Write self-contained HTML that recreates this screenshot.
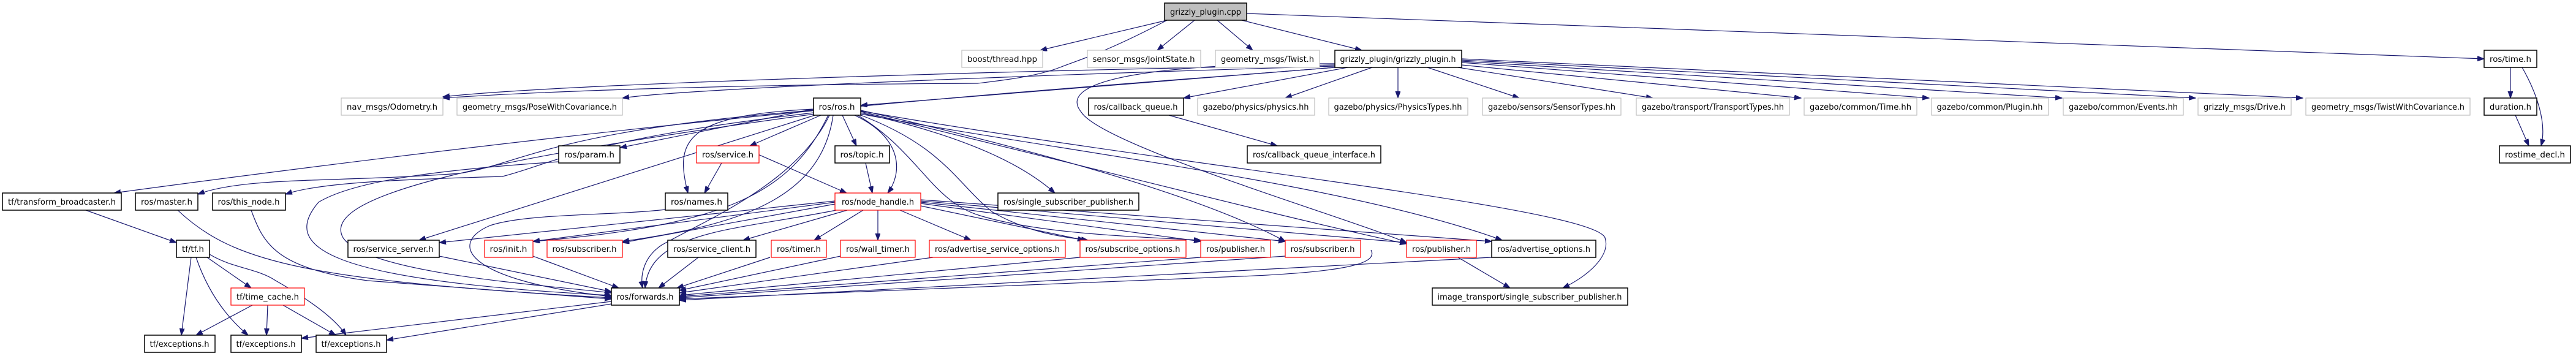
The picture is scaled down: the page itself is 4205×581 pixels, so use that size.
<!DOCTYPE html>
<html><head><meta charset="utf-8"><style>
html,body{margin:0;padding:0;background:#fff;}
svg{display:block}
text{font-family:"DejaVu Sans","Liberation Sans",sans-serif;font-size:13px;fill:#000}
.e{fill:none;stroke:#191970;stroke-width:1.2;marker-end:url(#a)}
.k{fill:#fff;stroke:#000;stroke-width:1.5}
.g{fill:#fff;stroke:#bfbfbf;stroke-width:1.2}
.r{fill:#fff;stroke:#ff0000;stroke-width:1.2}
.f{fill:#bfbfbf;stroke:#000;stroke-width:1.5}
</style></head><body>
<svg width="4205" height="581" viewBox="0 0 4205 581" xmlns="http://www.w3.org/2000/svg">
<defs><marker id="a" markerUnits="userSpaceOnUse" markerWidth="12" markerHeight="9" refX="11" refY="4" orient="auto"><path d="M0,0 L11,4 L0,8 z" fill="#191970" stroke="#191970"/></marker></defs>
<g>
<path class="e" d="M1905,33 L1698,82"/>
<path class="e" d="M1950,33 L1889,82"/>
<path class="e" d="M1987,33 L2045,82"/>
<path class="e" d="M2027,33 L2223,82"/>
<path class="e" d="M2035,22 L4055,96"/>
<path class="e" d="M1905,33 C1800,88 1760,98 1730,110 C1690,126 1620,133 1596,136 C1200,138 900,148 723,160"/>
<path class="e" d="M2179,106 C1600,116 900,138 723,158"/>
<path class="e" d="M2179,108 C1500,128 1100,148 1016,160"/>
<path class="e" d="M2179,110 L1405,172"/>
<path class="e" d="M2180,110 C1700,148 1200,178 186,315"/>
<path class="e" d="M2200,110 L1932,160"/>
<path class="e" d="M2240,110 L2098,160"/>
<path class="e" d="M2282,110 L2282,160"/>
<path class="e" d="M2330,110 L2480,160"/>
<path class="e" d="M2380,110 L2698,160"/>
<path class="e" d="M2386,106 L2940,160"/>
<path class="e" d="M2386,102 L3149,160"/>
<path class="e" d="M2386,100 L3366,160"/>
<path class="e" d="M2386,98 L3584,160"/>
<path class="e" d="M2386,96 L3759,160"/>
<path class="e" d="M2179,104 C1900,103 1720,128 1765,183 C1800,238 2200,355 2296,396"/>
<path class="e" d="M1328,178 L1012,241"/>
<path class="e" d="M1328,180 C900,213 850,268 750,283 C550,298 400,288 323,317"/>
<path class="e" d="M1328,184 C950,228 900,268 820,288 C650,293 520,298 466,317"/>
<path class="e" d="M1330,188 L684,392"/>
<path class="e" d="M1330,186 C800,258 520,318 560,388 C600,448 900,466 998,478"/>
<path class="e" d="M1340,188 L1224,238"/>
<path class="e" d="M1328,178 C1120,188 1100,228 1123,315"/>
<path class="e" d="M1375,188 L1398,238"/>
<path class="e" d="M1395,188 C1480,228 1470,288 1449,315"/>
<path class="e" d="M1405,184 C1600,228 1680,278 1722,315"/>
<path class="e" d="M1352,188 C1290,318 1180,368 870,394"/>
<path class="e" d="M1360,188 C1340,328 1200,368 1016,394"/>
<path class="e" d="M1354,188 C1300,300 1150,360 1080,400 C1050,420 1045,450 1049,470"/>
<path class="e" d="M1400,188 C1500,248 1520,328 1600,352 C1700,382 1850,386 1960,392"/>
<path class="e" d="M1400,186 C1540,238 1560,298 1620,346 C1680,380 1730,386 1776,392"/>
<path class="e" d="M1405,182 C1800,278 2100,356 2296,398"/>
<path class="e" d="M1405,180 C1800,270 2000,340 2098,394"/>
<path class="e" d="M1405,186 C1750,250 2200,300 2452,392"/>
<path class="e" d="M1405,181 C1900,268 2600,338 2620,388 C2630,418 2590,452 2551,470"/>
<path class="e" d="M1233,250 L1382,315"/>
<path class="e" d="M1178,266 L1150,315"/>
<path class="e" d="M1413,266 L1424,315"/>
<path class="e" d="M1363,328 L717,396"/>
<path class="e" d="M1363,330 L870,394"/>
<path class="e" d="M1363,333 L1016,396"/>
<path class="e" d="M1365,343 C1200,376 1060,376 1053,470"/>
<path class="e" d="M1383,343 L1213,392"/>
<path class="e" d="M1409,343 L1329,392"/>
<path class="e" d="M1433,343 L1433,392"/>
<path class="e" d="M1469,343 L1585,392"/>
<path class="e" d="M1503,336 L1770,392"/>
<path class="e" d="M1503,332 L1960,394"/>
<path class="e" d="M1503,330 L2098,394"/>
<path class="e" d="M1503,328 L2296,396"/>
<path class="e" d="M1503,326 L2435,394"/>
<path class="e" d="M717,418 L998,476"/>
<path class="e" d="M870,418 L1010,470"/>
<path class="e" d="M1140,420 L1075,470"/>
<path class="e" d="M1257,420 L1105,470"/>
<path class="e" d="M1372,418 L1109,474"/>
<path class="e" d="M1523,420 L1109,478"/>
<path class="e" d="M1763,420 L1109,482"/>
<path class="e" d="M1960,420 L1109,484"/>
<path class="e" d="M2098,418 L1109,486"/>
<path class="e" d="M2238,408 C2250,430 2200,445 2000,452 L1109,488"/>
<path class="e" d="M2435,420 L1109,490"/>
<path class="e" d="M912,264 C700,278 575,297 520,330 C460,400 520,458 998,482"/>
<path class="e" d="M1086,342 C1000,352 860,348 800,368 C730,398 760,458 998,484"/>
<path class="e" d="M290,343 C380,428 500,458 998,486"/>
<path class="e" d="M410,343 C430,398 450,438 600,458 L998,488"/>
<path class="e" d="M998,492 L492,552"/>
<path class="e" d="M998,496 L631,555"/>
<path class="e" d="M140,343 L288,396"/>
<path class="e" d="M312,420 L296,547"/>
<path class="e" d="M320,420 C340,478 370,518 405,547"/>
<path class="e" d="M338,420 L410,470"/>
<path class="e" d="M342,415 C380,438 420,438 450,458 C520,498 550,525 565,547"/>
<path class="e" d="M412,498 L320,547"/>
<path class="e" d="M437,498 L435,547"/>
<path class="e" d="M462,498 L548,547"/>
<path class="e" d="M1908,188 L2085,238"/>
<path class="e" d="M2380,420 L2465,470"/>
<path class="e" d="M4098,110 L4098,160"/>
<path class="e" d="M4117,110 C4140,150 4158,200 4148,238"/>
<path class="e" d="M4106,188 L4128,238"/>
</g>
<g>
<rect class="f" x="1901" y="5" width="134" height="28"/><text x="1968" y="24" text-anchor="middle" textLength="116" lengthAdjust="spacingAndGlyphs">grizzly_plugin.cpp</text>
<rect class="g" x="1570" y="82" width="132" height="28"/><text x="1636" y="101" text-anchor="middle" textLength="114" lengthAdjust="spacingAndGlyphs">boost/thread.hpp</text>
<rect class="g" x="1775" y="82" width="185" height="28"/><text x="1867" y="101" text-anchor="middle" textLength="167" lengthAdjust="spacingAndGlyphs">sensor_msgs/JointState.h</text>
<rect class="g" x="1984" y="82" width="170" height="28"/><text x="2069" y="101" text-anchor="middle" textLength="152" lengthAdjust="spacingAndGlyphs">geometry_msgs/Twist.h</text>
<rect class="k" x="2179" y="82" width="207" height="28"/><text x="2282" y="101" text-anchor="middle" textLength="189" lengthAdjust="spacingAndGlyphs">grizzly_plugin/grizzly_plugin.h</text>
<rect class="k" x="4055" y="82" width="86" height="28"/><text x="4098" y="101" text-anchor="middle" textLength="68" lengthAdjust="spacingAndGlyphs">ros/time.h</text>
<rect class="g" x="557" y="160" width="166" height="28"/><text x="640" y="179" text-anchor="middle" textLength="148" lengthAdjust="spacingAndGlyphs">nav_msgs/Odometry.h</text>
<rect class="g" x="746" y="160" width="270" height="28"/><text x="881" y="179" text-anchor="middle" textLength="252" lengthAdjust="spacingAndGlyphs">geometry_msgs/PoseWithCovariance.h</text>
<rect class="k" x="1328" y="160" width="77" height="28"/><text x="1366" y="179" text-anchor="middle" textLength="59" lengthAdjust="spacingAndGlyphs">ros/ros.h</text>
<rect class="k" x="1777" y="160" width="155" height="28"/><text x="1854" y="179" text-anchor="middle" textLength="137" lengthAdjust="spacingAndGlyphs">ros/callback_queue.h</text>
<rect class="g" x="1955" y="160" width="191" height="28"/><text x="2050" y="179" text-anchor="middle" textLength="173" lengthAdjust="spacingAndGlyphs">gazebo/physics/physics.hh</text>
<rect class="g" x="2169" y="160" width="227" height="28"/><text x="2282" y="179" text-anchor="middle" textLength="209" lengthAdjust="spacingAndGlyphs">gazebo/physics/PhysicsTypes.hh</text>
<rect class="g" x="2420" y="160" width="226" height="28"/><text x="2533" y="179" text-anchor="middle" textLength="208" lengthAdjust="spacingAndGlyphs">gazebo/sensors/SensorTypes.hh</text>
<rect class="g" x="2671" y="160" width="250" height="28"/><text x="2796" y="179" text-anchor="middle" textLength="232" lengthAdjust="spacingAndGlyphs">gazebo/transport/TransportTypes.hh</text>
<rect class="g" x="2945" y="160" width="184" height="28"/><text x="3037" y="179" text-anchor="middle" textLength="166" lengthAdjust="spacingAndGlyphs">gazebo/common/Time.hh</text>
<rect class="g" x="3153" y="160" width="191" height="28"/><text x="3248" y="179" text-anchor="middle" textLength="173" lengthAdjust="spacingAndGlyphs">gazebo/common/Plugin.hh</text>
<rect class="g" x="3368" y="160" width="196" height="28"/><text x="3466" y="179" text-anchor="middle" textLength="178" lengthAdjust="spacingAndGlyphs">gazebo/common/Events.hh</text>
<rect class="g" x="3588" y="160" width="152" height="28"/><text x="3664" y="179" text-anchor="middle" textLength="134" lengthAdjust="spacingAndGlyphs">grizzly_msgs/Drive.h</text>
<rect class="g" x="3764" y="160" width="268" height="28"/><text x="3898" y="179" text-anchor="middle" textLength="250" lengthAdjust="spacingAndGlyphs">geometry_msgs/TwistWithCovariance.h</text>
<rect class="k" x="4055" y="160" width="86" height="28"/><text x="4098" y="179" text-anchor="middle" textLength="68" lengthAdjust="spacingAndGlyphs">duration.h</text>
<rect class="k" x="912" y="238" width="100" height="28"/><text x="962" y="257" text-anchor="middle" textLength="82" lengthAdjust="spacingAndGlyphs">ros/param.h</text>
<rect class="r" x="1137" y="238" width="102" height="28"/><text x="1188" y="257" text-anchor="middle" textLength="84" lengthAdjust="spacingAndGlyphs">ros/service.h</text>
<rect class="k" x="1363" y="238" width="89" height="28"/><text x="1407" y="257" text-anchor="middle" textLength="71" lengthAdjust="spacingAndGlyphs">ros/topic.h</text>
<rect class="k" x="2036" y="238" width="218" height="28"/><text x="2145" y="257" text-anchor="middle" textLength="200" lengthAdjust="spacingAndGlyphs">ros/callback_queue_interface.h</text>
<rect class="k" x="4080" y="238" width="116" height="28"/><text x="4138" y="257" text-anchor="middle" textLength="98" lengthAdjust="spacingAndGlyphs">rostime_decl.h</text>
<rect class="k" x="4" y="315" width="194" height="28"/><text x="101" y="334" text-anchor="middle" textLength="176" lengthAdjust="spacingAndGlyphs">tf/transform_broadcaster.h</text>
<rect class="k" x="221" y="315" width="102" height="28"/><text x="272" y="334" text-anchor="middle" textLength="84" lengthAdjust="spacingAndGlyphs">ros/master.h</text>
<rect class="k" x="347" y="315" width="119" height="28"/><text x="406" y="334" text-anchor="middle" textLength="101" lengthAdjust="spacingAndGlyphs">ros/this_node.h</text>
<rect class="k" x="1086" y="315" width="102" height="28"/><text x="1137" y="334" text-anchor="middle" textLength="84" lengthAdjust="spacingAndGlyphs">ros/names.h</text>
<rect class="r" x="1363" y="315" width="140" height="28"/><text x="1433" y="334" text-anchor="middle" textLength="118" lengthAdjust="spacingAndGlyphs">ros/node_handle.h</text>
<rect class="k" x="1629" y="315" width="230" height="28"/><text x="1744" y="334" text-anchor="middle" textLength="212" lengthAdjust="spacingAndGlyphs">ros/single_subscriber_publisher.h</text>
<rect class="k" x="288" y="392" width="54" height="28"/><text x="315" y="411" text-anchor="middle" textLength="36" lengthAdjust="spacingAndGlyphs">tf/tf.h</text>
<rect class="k" x="568" y="392" width="149" height="28"/><text x="642" y="411" text-anchor="middle" textLength="131" lengthAdjust="spacingAndGlyphs">ros/service_server.h</text>
<rect class="r" x="791" y="392" width="79" height="28"/><text x="830" y="411" text-anchor="middle" textLength="61" lengthAdjust="spacingAndGlyphs">ros/init.h</text>
<rect class="r" x="893" y="392" width="123" height="28"/><text x="954" y="411" text-anchor="middle" textLength="105" lengthAdjust="spacingAndGlyphs">ros/subscriber.h</text>
<rect class="k" x="1090" y="392" width="144" height="28"/><text x="1162" y="411" text-anchor="middle" textLength="126" lengthAdjust="spacingAndGlyphs">ros/service_client.h</text>
<rect class="r" x="1259" y="392" width="90" height="28"/><text x="1304" y="411" text-anchor="middle" textLength="72" lengthAdjust="spacingAndGlyphs">ros/timer.h</text>
<rect class="r" x="1372" y="392" width="122" height="28"/><text x="1433" y="411" text-anchor="middle" textLength="104" lengthAdjust="spacingAndGlyphs">ros/wall_timer.h</text>
<rect class="r" x="1517" y="392" width="222" height="28"/><text x="1628" y="411" text-anchor="middle" textLength="204" lengthAdjust="spacingAndGlyphs">ros/advertise_service_options.h</text>
<rect class="r" x="1763" y="392" width="173" height="28"/><text x="1849" y="411" text-anchor="middle" textLength="155" lengthAdjust="spacingAndGlyphs">ros/subscribe_options.h</text>
<rect class="r" x="1960" y="392" width="114" height="28"/><text x="2017" y="411" text-anchor="middle" textLength="96" lengthAdjust="spacingAndGlyphs">ros/publisher.h</text>
<rect class="r" x="2098" y="392" width="123" height="28"/><text x="2159" y="411" text-anchor="middle" textLength="105" lengthAdjust="spacingAndGlyphs">ros/subscriber.h</text>
<rect class="r" x="2296" y="392" width="114" height="28"/><text x="2353" y="411" text-anchor="middle" textLength="96" lengthAdjust="spacingAndGlyphs">ros/publisher.h</text>
<rect class="k" x="2435" y="392" width="170" height="28"/><text x="2520" y="411" text-anchor="middle" textLength="152" lengthAdjust="spacingAndGlyphs">ros/advertise_options.h</text>
<rect class="r" x="377" y="470" width="120" height="28"/><text x="437" y="489" text-anchor="middle" textLength="102" lengthAdjust="spacingAndGlyphs">tf/time_cache.h</text>
<rect class="k" x="998" y="470" width="111" height="28"/><text x="1053" y="489" text-anchor="middle" textLength="93" lengthAdjust="spacingAndGlyphs">ros/forwards.h</text>
<rect class="k" x="2338" y="470" width="319" height="28"/><text x="2497" y="489" text-anchor="middle" textLength="301" lengthAdjust="spacingAndGlyphs">image_transport/single_subscriber_publisher.h</text>
<rect class="k" x="236" y="547" width="115" height="28"/><text x="293" y="566" text-anchor="middle" textLength="97" lengthAdjust="spacingAndGlyphs">tf/exceptions.h</text>
<rect class="k" x="377" y="547" width="115" height="28"/><text x="434" y="566" text-anchor="middle" textLength="97" lengthAdjust="spacingAndGlyphs">tf/exceptions.h</text>
<rect class="k" x="516" y="547" width="115" height="28"/><text x="573" y="566" text-anchor="middle" textLength="97" lengthAdjust="spacingAndGlyphs">tf/exceptions.h</text>
</g>
</svg>
</body></html>
